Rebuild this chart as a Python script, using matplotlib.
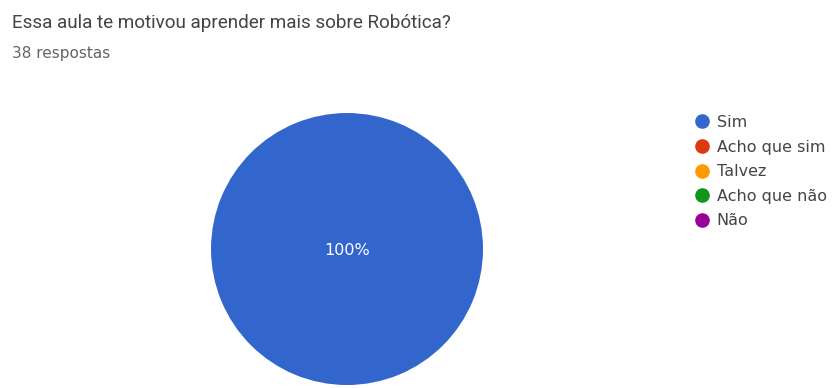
import matplotlib.pyplot as plt
from matplotlib.lines import Line2D

plt.rcParams['font.family'] = ['Roboto', 'DejaVu Sans']

# survey answers
categories = ['Sim', 'Acho que sim', 'Talvez', 'Acho que não', 'Não']
counts = [38, 0, 0, 0, 0]
colors = ['#3366cc', '#dc3912', '#ff9900', '#109618', '#990099']

fig = plt.figure(figsize=(8.39, 3.88), dpi=100)
fig.patch.set_facecolor('white')

fig.text(0.0143, 0.928, 'Essa aula te motivou aprender mais sobre Robótica?',
         fontsize=13.6, color='#444444', va='baseline')
fig.text(0.0143, 0.851, '38 respostas', fontsize=11, color='#5f6368',
         family='DejaVu Sans', va='baseline')

# pie axes, centre near (347, 249) px, radius 136 px
ax = fig.add_axes([0.2515, 0.0077, 0.3242, 0.701])
total = sum(counts)
wedges, _ = ax.pie(counts, colors=colors, startangle=90, counterclock=False,
                   wedgeprops=dict(linewidth=0))
ax.set_xlim(-1, 1)
ax.set_ylim(-1, 1)
ax.set_aspect('equal')
ax.text(0, -0.01, '{:.0f}%'.format(100 * counts[0] / total), ha='center', va='center',
        color='white', fontsize=11.5, family='DejaVu Sans')

handles = [Line2D([], [], marker='o', linestyle='none', markersize=9.5,
                  markerfacecolor=c, markeredgecolor=c) for c in colors]
fig.legend(handles, categories, loc='upper left', bbox_to_anchor=(0.822, 0.72),
           frameon=False, prop={'family': 'DejaVu Sans', 'size': 11.5},
           handlelength=0.8, handletextpad=0.5, labelspacing=0.6,
           labelcolor='#444444', borderaxespad=0)

fig.savefig('out.png', dpi=100)
